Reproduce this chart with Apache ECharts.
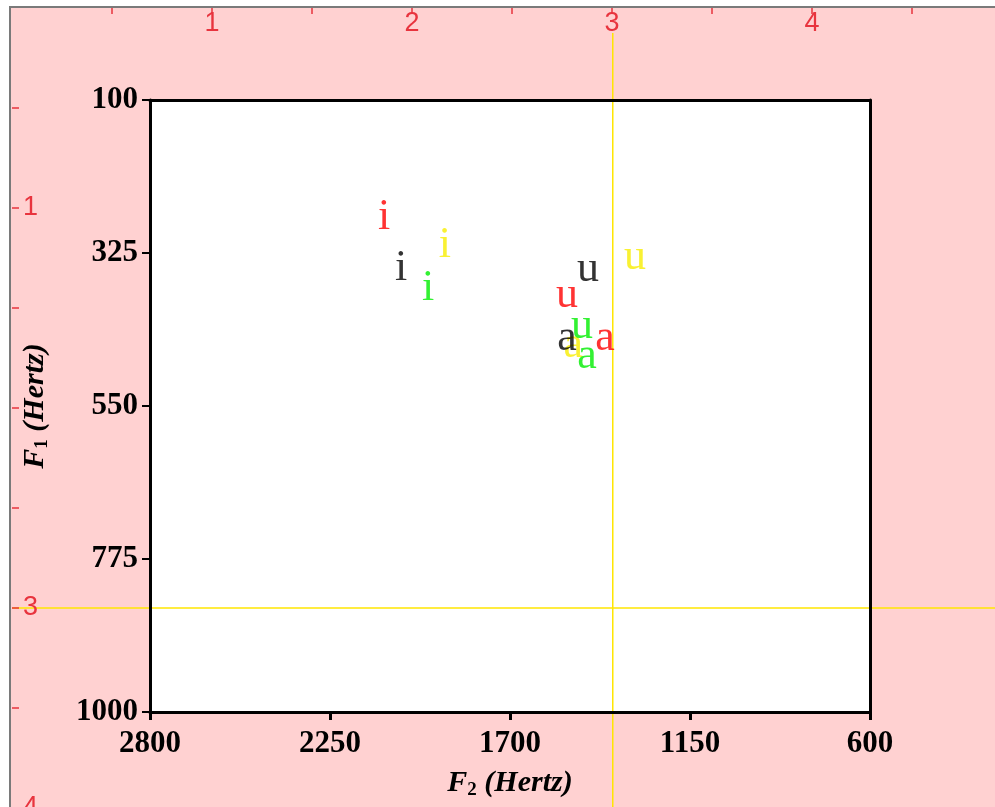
<!DOCTYPE html>
<html><head><meta charset="utf-8">
<script src="https://cdn.jsdelivr.net/npm/echarts@6/dist/echarts.min.js"></script>
<style>
html,body{margin:0;padding:0;background:#fff;overflow:hidden}
#bg{position:absolute;left:9px;top:6px;width:1000px;height:900px;background:#ffd1d1;border-left:2px solid #7a7a7a;border-top:2px solid #7a7a7a}
#c{position:absolute;left:0;top:0;width:995px;height:807px}
</style>
</head><body><div id="bg"></div><div id="c"></div>
<script>
// vowel labels
const vowels = ['i', 'u', 'a'];
// F2 / F1 (Hertz) per speaker
const yellowF2 = [1899, 1318, 1507];
const yellowF1 = [314, 332, 461];
const blackF2 = [2033, 1462, 1526];
const blackF1 = [348, 349, 451];
const redF2 = [2085, 1526, 1410];
const redF1 = [273, 387, 451];
const greenF2 = [1950, 1480, 1465];
const greenF1 = [377, 433, 477];
// axis ticks
const xTicks = [2800, 2250, 1700, 1150, 600];
const yTicks = [100, 325, 550, 775, 1000];
// rulers
const rulerTicks = [0.5, 1, 1.5, 2, 2.5, 3, 3.5, 4, 4.5];
const rulerTopLabels = [1, 2, 3, 4];
const rulerLeftLabels = [1, 3, 4];
// cursor crosshair
const cursorF2 = 1386;
const cursorF1 = 847;

const speakers = [
  {name: 'yellow', color: '#f7ee00', f2: yellowF2, f1: yellowF1},
  {name: 'black', color: '#000000', f2: blackF2, f1: blackF1},
  {name: 'red', color: '#ff0000', f2: redF2, f1: redF1},
  {name: 'green', color: '#00ee00', f2: greenF2, f1: greenF1}
];

const SERIF = "'Liberation Serif','Times New Roman',serif";
const RULER_FONT = "'Liberation Sans Narrow','Arial Narrow','Liberation Sans',sans-serif";
const RED = '#e8343e';

const chart = echarts.init(document.getElementById('c'), null, {renderer: 'canvas'});

const nameRich = {
  i: {fontFamily: SERIF, fontStyle: 'italic', fontWeight: 'bold', fontSize: 30, color: '#000', lineHeight: 33},
  s: {fontFamily: SERIF, fontWeight: 'bold', fontSize: 19, color: '#000', verticalAlign: 'bottom', padding: [14, 0, 0, 0]}
};
const plain = v => String(v);

const option = {
  backgroundColor: 'transparent',
  animation: false,
  grid: [
    {left: 150, top: 100, width: 720, height: 612, show: true, backgroundColor: '#ffffff', borderWidth: 0, z: 0,
     containLabel: false, outerBoundsMode: 'none'},
    {left: 12, top: 8, width: 983, height: 820, show: false, containLabel: false, outerBoundsMode: 'none'}
  ],
  xAxis: [
    {
      gridIndex: 0, type: 'value', min: 600, max: 2800, inverse: true, position: 'bottom', z: 3,
      axisLine: {show: true, onZero: false, lineStyle: {color: '#000', width: 3}},
      axisTick: {show: true, inside: false, length: 8, customValues: xTicks, lineStyle: {color: '#000', width: 3}},
      axisLabel: {customValues: xTicks, formatter: plain, margin: 16, fontFamily: SERIF, fontWeight: 'bold', fontSize: 31, color: '#000'},
      splitLine: {show: false},
      name: '{i|F}{s|2}{i| (Hertz)}', nameLocation: 'middle', nameGap: 55,
      nameTextStyle: {rich: nameRich}
    },
    {
      gridIndex: 0, type: 'value', min: 600, max: 2800, inverse: true, position: 'top', z: 3,
      axisLine: {show: true, onZero: false, lineStyle: {color: '#000', width: 3}},
      axisTick: {show: false}, axisLabel: {show: false}, splitLine: {show: false}
    },
    {
      gridIndex: 1, type: 'value', min: 0, max: 983 / 200, position: 'top', z: 3,
      axisLine: {show: false},
      axisTick: {show: true, inside: true, length: 6, customValues: rulerTicks, lineStyle: {color: RED, width: 1.5}},
      axisLabel: {inside: true, customValues: rulerTopLabels, formatter: plain, margin: 2, fontFamily: RULER_FONT, fontSize: 27, color: RED},
      splitLine: {show: false}
    }
  ],
  yAxis: [
    {
      gridIndex: 0, type: 'value', min: 100, max: 1000, inverse: true, position: 'left', z: 3,
      axisLine: {show: true, onZero: false, lineStyle: {color: '#000', width: 3}},
      axisTick: {show: true, inside: false, length: 8, customValues: yTicks, lineStyle: {color: '#000', width: 2}},
      axisLabel: {customValues: yTicks, formatter: plain, margin: 12, fontFamily: SERIF, fontWeight: 'bold', fontSize: 31, color: '#000'},
      splitLine: {show: false},
      name: '{i|F}{s|1}{i| (Hertz)}', nameLocation: 'middle', nameGap: 98,
      nameTextStyle: {rich: nameRich}
    },
    {
      gridIndex: 0, type: 'value', min: 100, max: 1000, inverse: true, position: 'right', z: 3,
      axisLine: {show: true, onZero: false, lineStyle: {color: '#000', width: 3}},
      axisTick: {show: false}, axisLabel: {show: false}, splitLine: {show: false}
    },
    {
      gridIndex: 1, type: 'value', min: 0, max: 820 / 200, inverse: true, position: 'left', z: 3,
      axisLine: {show: false},
      axisTick: {show: true, inside: true, length: 7, customValues: rulerTicks, lineStyle: {color: RED, width: 1.5}},
      axisLabel: {inside: true, customValues: rulerLeftLabels, formatter: plain, margin: 11, fontFamily: RULER_FONT, fontSize: 27, color: RED},
      splitLine: {show: false}
    }
  ],
  series: speakers.map(sp => ({
    type: 'scatter', name: sp.name, xAxisIndex: 0, yAxisIndex: 0, z: 5,
    symbol: 'circle', symbolSize: 1, itemStyle: {color: 'rgba(0,0,0,0)'},
    label: {show: true, position: 'inside', formatter: p => p.name, color: sp.color,
      fontFamily: SERIF, fontSize: 44, align: 'center', verticalAlign: 'middle', padding: [6, 0, 0, 0]},
    emphasis: {disabled: true},
    data: vowels.map((v, k) => ({name: v, value: [sp.f2[k], sp.f1[k]]}))
  }))
};
chart.setOption(option);

const cx = chart.convertToPixel({xAxisIndex: 0}, cursorF2);
const cy = chart.convertToPixel({yAxisIndex: 0}, cursorF1);
chart.setOption({
  graphic: [
    {type: 'line', z: 1, silent: true, shape: {x1: cx, y1: 33, x2: cx, y2: 807}, style: {stroke: '#ffe600', lineWidth: 1.5}},
    {type: 'line', z: 1, silent: true, shape: {x1: 12, y1: cy, x2: 995, y2: cy}, style: {stroke: '#ffe600', lineWidth: 1.5}}
  ]
});
</script>
</body></html>
